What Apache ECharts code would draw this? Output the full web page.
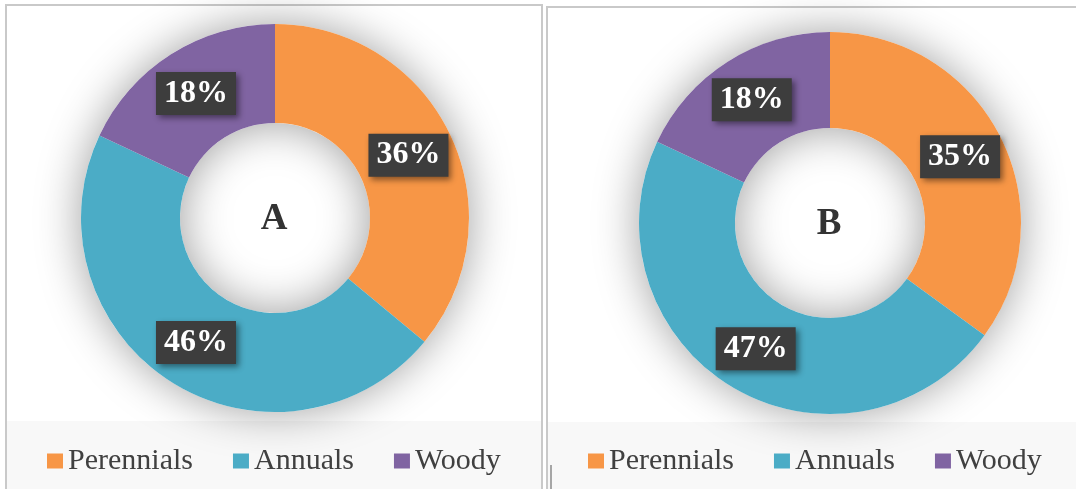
<!DOCTYPE html>
<html>
<head>
<meta charset="utf-8">
<script src="https://cdn.jsdelivr.net/npm/echarts@6/dist/echarts.min.js"></script>
<style>
  html, body { margin: 0; padding: 0; background: #ffffff; }
  #chart { width: 1076px; height: 489px; }
</style>
</head>
<body>
<div id="chart"></div>
<script>
// Plant growth-form shares for two samples
const categories = ['Perennials', 'Annuals', 'Woody'];
const valuesA = [36, 46, 18];
const valuesB = [35, 47, 18];
const panelTitles = ['A', 'B'];
const colors = ['#F79646', '#4BACC6', '#8064A2'];

const serif = '"Liberation Serif", "Times New Roman", serif';

const panels = [
  { values: valuesA, title: panelTitles[0], center: [275, 218], radius: [95, 194] },
  { values: valuesB, title: panelTitles[1], center: [830, 223], radius: [95, 191] }
];

const series = [];
panels.forEach(function (p) {
  // soft halo behind the ring
  series.push({
    type: 'pie',
    silent: true,
    center: p.center,
    radius: p.radius,
    label: { show: false },
    labelLine: { show: false },
    itemStyle: {
      color: '#ffffff',
      shadowBlur: 45,
      shadowColor: 'rgba(0,0,0,0.38)'
    },
    data: [{ name: '_ring', value: 1 }],
    z: 1
  });
  series.push({
    type: 'pie',
    center: p.center,
    radius: p.radius,
    startAngle: 90,
    clockwise: true,
    avoidLabelOverlap: false,
    data: categories.map(function (c, i) {
      return { name: c, value: p.values[i], itemStyle: { color: colors[i] } };
    }),
    label: {
      show: true,
      position: 'inside',
      formatter: '{c}%',
      fontFamily: serif,
      fontWeight: 'bold',
      fontSize: 32,
      lineHeight: 32,
      color: '#ffffff',
      backgroundColor: '#3d3d3d',
      padding: [6, 8, 5, 8],
      shadowColor: 'rgba(0,0,0,0.45)',
      shadowBlur: 6,
      shadowOffsetX: 3,
      shadowOffsetY: 3
    },
    labelLine: { show: false },
    emphasis: { scale: false },
    z: 2
  });
});

const legendBase = {
  data: categories,
  icon: 'rect',
  itemWidth: 16,
  itemHeight: 15,
  itemGap: 40,
  top: 441,
  selectedMode: false,
  textStyle: { fontFamily: serif, fontSize: 30, color: '#404040' }
};

const option = {
  animation: false,
  backgroundColor: '#ffffff',
  graphic: [
    // panel frames and legend bands
    { type: 'rect', z: -10, shape: { x: 6, y: 5, width: 536, height: 500 },
      style: { fill: '#ffffff', stroke: '#c9c9c9', lineWidth: 2 } },
    { type: 'rect', z: -9, shape: { x: 7, y: 421, width: 534, height: 70 },
      style: { fill: '#f8f8f8' } },
    { type: 'rect', z: -10, shape: { x: 547, y: 7, width: 540, height: 500 },
      style: { fill: '#ffffff', stroke: '#c9c9c9', lineWidth: 2 } },
    { type: 'rect', z: -9, shape: { x: 548, y: 422, width: 530, height: 70 },
      style: { fill: '#f8f8f8' } },
    { type: 'line', z: 5, shape: { x1: 551, y1: 465, x2: 551, y2: 489 },
      style: { stroke: '#555555', lineWidth: 1 } },
    // centre letters
    { type: 'text', z: 100, x: panels[0].center[0] - 1, y: panels[0].center[1] + 1,
      style: { text: panels[0].title, fontFamily: serif, fontWeight: 'bold', fontSize: 37,
               fill: '#333333', textAlign: 'center', textVerticalAlign: 'middle' } },
    { type: 'text', z: 100, x: panels[1].center[0] - 1, y: panels[1].center[1] + 1,
      style: { text: panels[1].title, fontFamily: serif, fontWeight: 'bold', fontSize: 37,
               fill: '#333333', textAlign: 'center', textVerticalAlign: 'middle' } }
  ],
  legend: [
    Object.assign({}, legendBase, { left: 42 }),
    Object.assign({}, legendBase, { left: 583 })
  ],
  series: series
};

const chart = echarts.init(document.getElementById('chart'), null, { renderer: 'canvas' });
chart.setOption(option);
</script>
</body>
</html>
